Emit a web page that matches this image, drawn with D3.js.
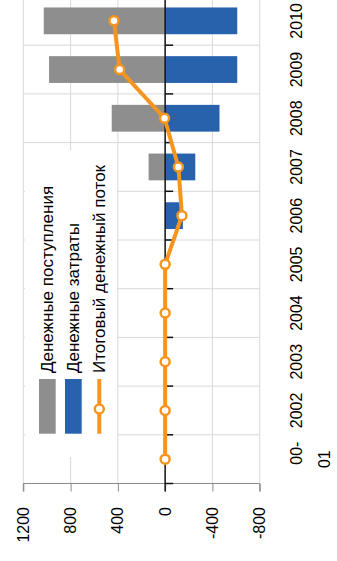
<!DOCTYPE html>
<html lang="ru">
<head>
<meta charset="UTF-8">
<title>Денежные потоки</title>
<script src="https://d3js.org/d3.v7.min.js"></script>
<style>
  body { margin: 0; background: #fff; }
  text { font-family: "Liberation Sans", Arial, sans-serif; fill: #000; }
</style>
</head>
<body>
<svg></svg>
<script>
// data
const categories = ["00-01", "2002", "2003", "2004", "2005", "2006", "2007", "2008", "2009", "2010"];
const inflows = [0, 0, 0, 0, 0, 0, 140, 452, 982, 1027];
const outflows = [0, 0, 0, 0, 0, -150, -255, -460, -610, -610];
const netFlow = [0, 0, 0, 0, 0, -142, -112, 5, 385, 433];
const valueTicks = [1200, 800, 400, 0, -400, -800];
const seriesNames = ["Денежные поступления", "Денежные затраты", "Итоговый денежный поток"];

// the chart is drawn as a normal column chart, then turned -90deg
const W = 561, H = 337;
const grey = "#8e8e8e", blue = "#2862ad", orange = "#f7941d";

const svg = d3.select("svg")
    .attr("width", H)
    .attr("height", W);

const g = svg.append("g")
    .attr("transform", `translate(0,${W}) rotate(-90)`);

const x = d3.scaleBand()
    .domain(categories)
    .range([77.5, 564.5])
    .paddingInner(0.45)
    .paddingOuter(0.225);

const y = d3.scaleLinear()
    .domain([-800, 1200])
    .range([259.7, 23.3]);

const step = x.step();
const edge = c => x(c) - step * 0.225;
const mid = c => x(c) + x.bandwidth() / 2;

// grid
g.selectAll("line.hgrid")
    .data(valueTicks.filter(v => v !== 0))
    .enter().append("line")
    .attr("x1", 77.5).attr("x2", 564.5)
    .attr("y1", d => y(d)).attr("y2", d => y(d))
    .attr("stroke", "#d9d9d9").attr("stroke-width", 1);

g.selectAll("line.vgrid")
    .data(categories.slice(1))
    .enter().append("line")
    .attr("x1", d => edge(d)).attr("x2", d => edge(d))
    .attr("y1", y(1200)).attr("y2", y(-800))
    .attr("stroke", "#d9d9d9").attr("stroke-width", 1);

// bars
g.selectAll("rect.in")
    .data(categories)
    .enter().append("rect")
    .attr("x", d => x(d))
    .attr("width", x.bandwidth())
    .attr("y", (d, i) => y(inflows[i]))
    .attr("height", (d, i) => y(0) - y(inflows[i]))
    .attr("fill", grey);

g.selectAll("rect.out")
    .data(categories)
    .enter().append("rect")
    .attr("x", d => x(d))
    .attr("width", x.bandwidth())
    .attr("y", y(0))
    .attr("height", (d, i) => y(outflows[i]) - y(0))
    .attr("fill", blue);

// value axis
const yAxis = g.append("g")
    .attr("transform", "translate(77.5,0)")
    .call(d3.axisLeft(y).tickValues(valueTicks).tickSize(8).tickPadding(15.5)
        .tickFormat(d => String(d)));
yAxis.selectAll("line, path").attr("stroke", "#8a8a8a");
yAxis.select(".domain").attr("d", `M-8,${y(1200)}H0V${y(-800)}H-8`);
yAxis.selectAll("text")
    .style("font-size", "16px")
    .style("font-family", "'Liberation Sans', Arial, sans-serif")
    .attr("fill", "#000");

// category axis at zero
g.append("line")
    .attr("x1", 69.5).attr("x2", 564.5)
    .attr("y1", y(0)).attr("y2", y(0))
    .attr("stroke", "#111").attr("stroke-width", 1.5);

g.selectAll("line.ctick")
    .data(categories)
    .enter().append("line")
    .attr("x1", d => edge(d)).attr("x2", d => edge(d))
    .attr("y1", y(0)).attr("y2", y(0) + 8)
    .attr("stroke", "#111").attr("stroke-width", 1.5);

const labels = g.selectAll("text.cat")
    .data(categories)
    .enter().append("text")
    .attr("class", "cat")
    .attr("text-anchor", "middle")
    .style("font-size", "16px");
labels.each(function(d) {
    const t = d3.select(this);
    const parts = d.includes("-") ? [d.split("-")[0] + "-", d.split("-")[1]] : [d];
    parts.forEach((p, k) => {
        t.append("tspan")
            .attr("x", mid(d) + (parts.length > 1 && k === 0 ? 6 : 0))
            .attr("y", 302 + k * 28)
            .text(p);
    });
});

// net flow line
const line = d3.line()
    .x(d => mid(d))
    .y((d, i) => y(netFlow[i]));

g.append("path")
    .datum(categories)
    .attr("d", line)
    .attr("fill", "none")
    .attr("stroke", orange)
    .attr("stroke-width", 4)
    .attr("stroke-linejoin", "round");

g.selectAll("circle.pt")
    .data(categories)
    .enter().append("circle")
    .attr("cx", d => mid(d))
    .attr("cy", (d, i) => y(netFlow[i]))
    .attr("r", 4.5)
    .attr("fill", "#fff")
    .attr("stroke", orange)
    .attr("stroke-width", 2.5);

// legend
const legend = g.append("g");
legend.append("rect")
    .attr("x", 104).attr("y", 25)
    .attr("width", 307).attr("height", 92)
    .attr("fill", "#fff");

const rows = [39, 65, 90.5];
legend.append("rect").attr("x", 127.3).attr("y", rows[0]).attr("width", 54.7).attr("height", 16.7).attr("fill", grey);
legend.append("rect").attr("x", 127.3).attr("y", rows[1]).attr("width", 54.7).attr("height", 16.7).attr("fill", blue);
legend.append("line")
    .attr("x1", 127.3).attr("x2", 182)
    .attr("y1", rows[2] + 8.8).attr("y2", rows[2] + 8.8)
    .attr("stroke", orange).attr("stroke-width", 4);
legend.append("circle")
    .attr("cx", 152).attr("cy", rows[2] + 8.8).attr("r", 4.5)
    .attr("fill", "#fff").attr("stroke", orange).attr("stroke-width", 2.5);

legend.selectAll("text")
    .data(seriesNames)
    .enter().append("text")
    .attr("x", 188)
    .attr("y", (d, i) => rows[i] + 14)
    .style("font-size", "17px")
    .text(d => d);
</script>
</body>
</html>
